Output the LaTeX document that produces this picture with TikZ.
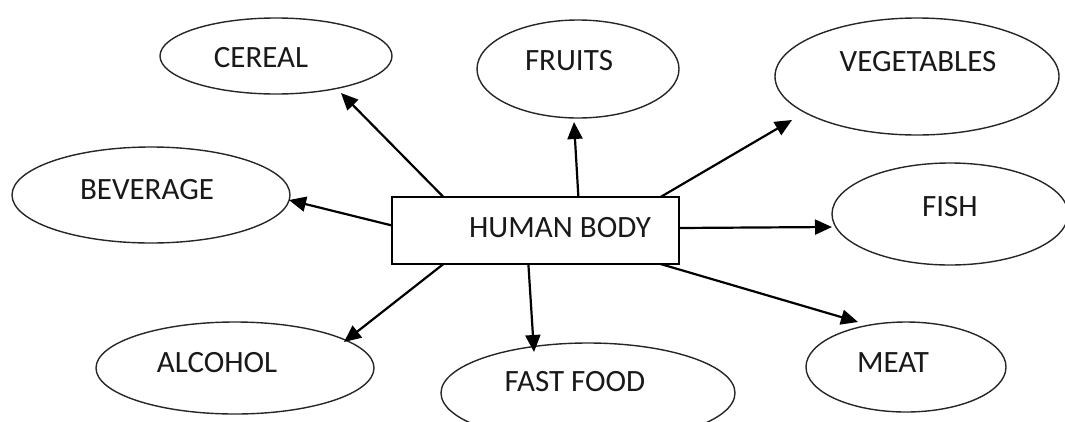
\documentclass[tikz,border=0pt]{standalone}
\usepackage{fontspec}
\setmainfont{Carlito}
\usetikzlibrary{shapes.geometric,arrows.meta,calc}
\begin{document}
\begin{tikzpicture}[x=1pt,y=-1pt,
  food/.style={draw=black!85, line width=1.4pt, ellipse, inner sep=0pt, outer sep=0pt},
  foodtext/.style={inner sep=0pt, font=\fontsize{31}{36}\selectfont, text=black!90},
  hub/.style={draw, line width=1.9pt, rectangle, inner sep=0pt, outer sep=0pt},
  link/.style={draw, line width=2.2pt, -{Triangle[length=17pt,width=15pt]}},
]
\clip (0,0) rectangle (1065,421);

% central box
\node[hub, minimum width=287pt, minimum height=67pt] (body) at (535.5,230.5) {};
\node[foodtext] (body-t) at (560,228) {HUMAN BODY};

% food groups
\node[food, minimum width=232pt, minimum height=76pt]  (cereal)   at (276,56)   {};
\node[food, minimum width=202pt, minimum height=98pt]  (fruits)   at (578,69)   {};
\node[food, minimum width=284pt, minimum height=117pt] (veg)      at (917,76.5) {};
\node[food, minimum width=278pt, minimum height=96pt]  (bev)      at (151,195)  {};
\node[food, minimum width=236pt, minimum height=102pt] (fish)     at (950,214)  {};
\node[food, minimum width=278pt, minimum height=92pt]  (alcohol)  at (235,368)  {};
\node[food, minimum width=294pt, minimum height=100pt] (fastfood) at (588,393)  {};
\node[food, minimum width=200pt, minimum height=90pt]  (meat)     at (906,367)  {};

\node[foodtext] (cereal-t)   at (261,58)  {CEREAL};
\node[foodtext] (fruits-t)   at (569,61)  {FRUITS};
\node[foodtext] (veg-t)      at (918,62)  {VEGETABLES};
\node[foodtext] (bev-t)      at (147,190) {BEVERAGE};
\node[foodtext] (fish-t)     at (950,207) {FISH};
\node[foodtext] (alcohol-t)  at (217,363) {ALCOHOL};
\node[foodtext] (fastfood-t) at (575,382) {FAST FOOD};
\node[foodtext] (meat-t)     at (893,363) {MEAT};

% connectors
\draw[link] (body.160.67)  -- ($(cereal.center)+(65,37)$);
\draw[link] (body.38.25)   -- ($(fruits.center)+(-4,53)$);
\draw[link] (body.15.41)   -- ($(veg.center)+(-125,43.5)$);
\draw[link] (body.178.2)   -- ($(bev.center)+(138,5)$);
\draw[link] (body.1.4)     -- ($(fish.center)+(-118,13)$);
\draw[link] (body.-160.3)  -- ($(alcohol.center)+(109,-26)$);
\draw[link] (body.-102.6)  -- ($(fastfood.center)+(-54,-41)$);
\draw[link] (body.-15.41)  -- ($(meat.center)+(-48,-45)$);
\end{tikzpicture}
\end{document}
